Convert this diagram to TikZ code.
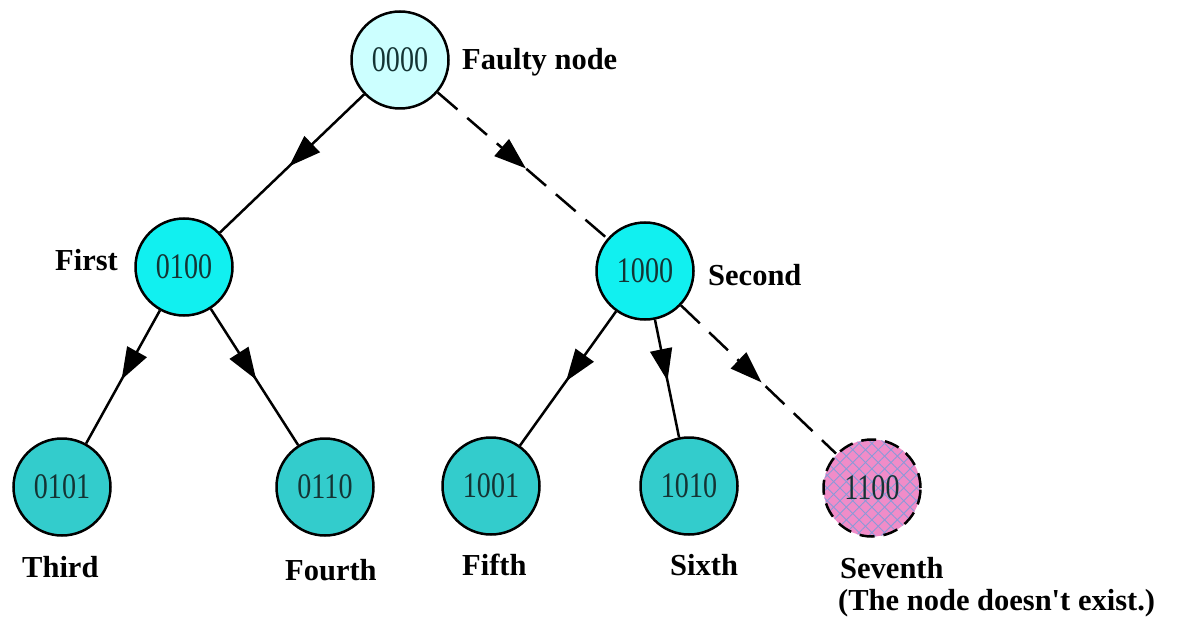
\documentclass[tikz,border=0pt]{standalone}
\usepackage{fontspec}
\setmainfont{Liberation Serif}
\newfontfamily\numfont[FakeStretch=0.78]{Liberation Serif}
\usetikzlibrary{arrows.meta,decorations.markings,patterns.meta}

\definecolor{rootfill}{HTML}{CCFFFF}
\definecolor{midfill}{HTML}{11F0F0}
\definecolor{leaffill}{HTML}{33CCCC}
\definecolor{ghostfill}{HTML}{F08CC8}
\definecolor{hatchblue}{HTML}{8A9AD8}
\definecolor{numcol}{HTML}{143434}

\tikzset{
  tnode/.style={circle, draw=black, line width=2.5pt, minimum size=97pt, inner sep=0pt,
    font=\numfont\fontsize{36}{36}\selectfont, text=numcol},
  rootnode/.style={tnode, fill=rootfill},
  midnode/.style={tnode, fill=midfill},
  leafnode/.style={tnode, fill=leaffill},
  tag/.style={anchor=base west, inner sep=0pt, font=\bfseries\fontsize{30.5}{36}\selectfont},
  link/.style={line width=2.5pt,
    postaction={decorate, decoration={markings,
      mark=at position 0.52 with {\arrow[solid]{Triangle[length=32pt,width=22pt]}}}}},
  dashlink/.style={link, dash pattern=on 26pt off 13pt},
}

\begin{document}
\begin{tikzpicture}[x=1pt,y=-1pt]
  \useasboundingbox (0,0) rectangle (1182,628);

  % tree nodes
  \node[rootnode] (n0000) at (400,60) {0000};
  \node[midnode]  (n0100) at (184,267) {0100};
  \node[midnode]  (n1000) at (645,271) {1000};
  \node[leafnode] (n0101) at (62,487) {0101};
  \node[leafnode] (n0110) at (325,487) {0110};
  \node[leafnode] (n1001) at (491,486) {1001};
  \node[leafnode] (n1010) at (689,486) {1010};
  % the missing node: pink with a blue cross-hatch and a dashed rim
  \fill[ghostfill] (872,488) circle (48.5pt);
  \fill[pattern={Lines[angle=45,distance=9pt,line width=0.9pt]}, pattern color=hatchblue]
    (872,488) circle (48.5pt);
  \fill[pattern={Lines[angle=-45,distance=9pt,line width=0.9pt]}, pattern color=hatchblue]
    (872,488) circle (48.5pt);
  \node[tnode, dash pattern=on 15pt off 9pt] (n1100) at (872,488) {1100};

  % connectors
  \draw[link]     (n0000) -- (n0100);
  \draw[dashlink] (n0000) -- (n1000);
  \draw[link]     (n0100) -- (n0101);
  \draw[link]     (n0100) -- (n0110);
  \draw[link]     (n1000) -- (n1001);
  \draw[link]     (n1000) -- (n1010);
  \draw[dashlink] (n1000) -- (n1100);

  % labels
  \node[tag] (tFaulty)  at (462,70)  {Faulty node};
  \node[tag] (tFirst)   at (55,270)  {First};
  \node[tag] (tSecond)  at (708,285) {Second};
  \node[tag] (tThird)   at (22,577)  {Third};
  \node[tag] (tFourth)  at (285,580) {Fourth};
  \node[tag] (tFifth)   at (462,575) {Fifth};
  \node[tag] (tSixth)   at (670,575) {Sixth};
  \node[tag] (tSeventh) at (840,578) {Seventh};
  \node[tag] (tNote)    at (838,610) {(The node doesn\textquotesingle t exist.)};
\end{tikzpicture}
\end{document}
